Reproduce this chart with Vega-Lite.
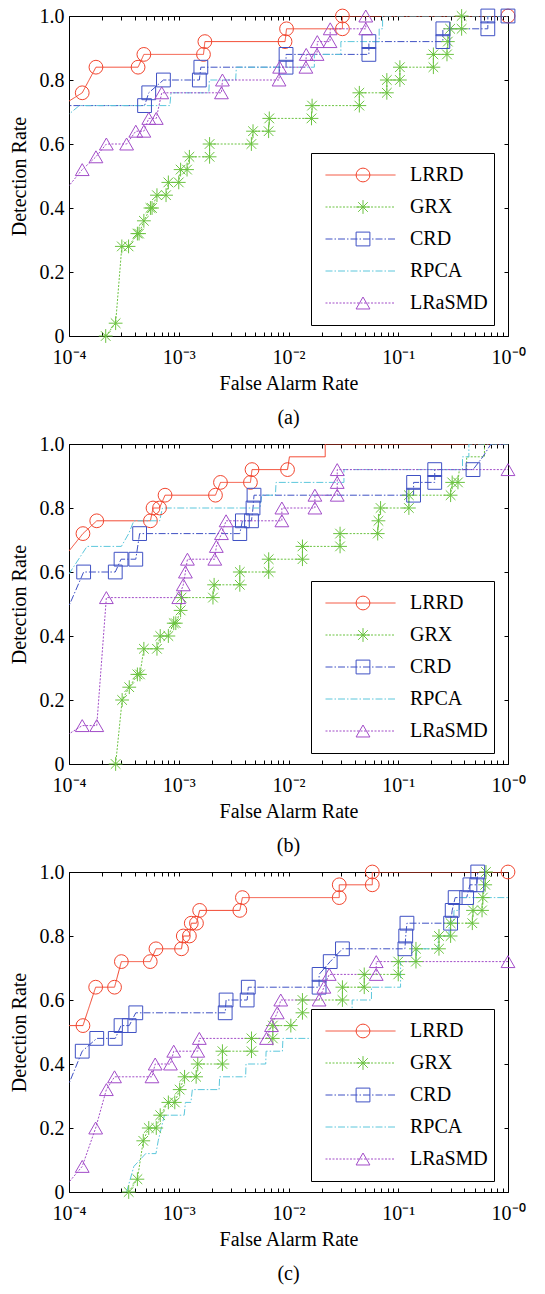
{
"$schema": "https://vega.github.io/schema/vega-lite/v6.json",
"background": "white",
"padding": {"left": 8, "top": 5, "right": 5, "bottom": 0},
"config": {
  "font": "Liberation Serif",
  "view": {"stroke": "black", "strokeWidth": 1},
  "axis": {"grid": false, "domain": false, "tickColor": "black", "tickWidth": 1, "tickSize": -4, "labelFont": "Liberation Serif", "labelFontSize": 20, "labelColor": "black", "titleFont": "Liberation Serif", "titleFontSize": 20, "titleFontWeight": "normal", "titleColor": "black", "labelFlush": false, "labelOverlap": false},
  "legend": {"orient": "none", "legendY": 137, "clipHeight": 32, "rowPadding": 0, "padding": 6, "labelFont": "Liberation Serif", "labelFontSize": 20, "labelColor": "black", "symbolStrokeWidth": 1},
  "title": {"font": "Liberation Serif", "fontSize": 20, "fontWeight": "normal", "color": "black", "orient": "bottom", "anchor": "middle", "offset": 15},
  "concat": {"spacing": 4}
},
"datasets": {"roc": [
{"p":"a","m":"LRRD","x":8.6e-5,"y":0.72},{"p":"a","m":"LRRD","x":1.32e-4,"y":0.76},{"p":"a","m":"LRRD","x":1.76e-4,"y":0.84},{"p":"a","m":"LRRD","x":4.26e-4,"y":0.84},{"p":"a","m":"LRRD","x":4.81e-4,"y":0.88},{"p":"a","m":"LRRD","x":1.68e-3,"y":0.88},{"p":"a","m":"LRRD","x":1.73e-3,"y":0.92},{"p":"a","m":"LRRD","x":9.3e-3,"y":0.92},{"p":"a","m":"LRRD","x":9.6e-3,"y":0.96},{"p":"a","m":"LRRD","x":0.031,"y":0.96},{"p":"a","m":"LRRD","x":0.031,"y":1},{"p":"a","m":"LRRD","x":1,"y":1},
{"p":"a","m":"GRX","x":2.16e-4,"y":0},{"p":"a","m":"GRX","x":2.66e-4,"y":0.04},{"p":"a","m":"GRX","x":3.03e-4,"y":0.28},{"p":"a","m":"GRX","x":3.49e-4,"y":0.28},{"p":"a","m":"GRX","x":4.2e-4,"y":0.32},{"p":"a","m":"GRX","x":4.35e-4,"y":0.32},{"p":"a","m":"GRX","x":4.81e-4,"y":0.36},{"p":"a","m":"GRX","x":5.52e-4,"y":0.4},{"p":"a","m":"GRX","x":5.71e-4,"y":0.4},{"p":"a","m":"GRX","x":6.33e-4,"y":0.44},{"p":"a","m":"GRX","x":7.66e-4,"y":0.44},{"p":"a","m":"GRX","x":8.04e-4,"y":0.48},{"p":"a","m":"GRX","x":1.0e-3,"y":0.48},{"p":"a","m":"GRX","x":1.04e-3,"y":0.52},{"p":"a","m":"GRX","x":1.19e-3,"y":0.52},{"p":"a","m":"GRX","x":1.25e-3,"y":0.56},{"p":"a","m":"GRX","x":1.91e-3,"y":0.56},{"p":"a","m":"GRX","x":1.91e-3,"y":0.6},{"p":"a","m":"GRX","x":4.59e-3,"y":0.6},{"p":"a","m":"GRX","x":4.75e-3,"y":0.64},{"p":"a","m":"GRX","x":6.59e-3,"y":0.64},{"p":"a","m":"GRX","x":6.68e-3,"y":0.68},{"p":"a","m":"GRX","x":0.0162,"y":0.68},{"p":"a","m":"GRX","x":0.0164,"y":0.72},{"p":"a","m":"GRX","x":0.0442,"y":0.72},{"p":"a","m":"GRX","x":0.0442,"y":0.76},{"p":"a","m":"GRX","x":0.0787,"y":0.76},{"p":"a","m":"GRX","x":0.0787,"y":0.8},{"p":"a","m":"GRX","x":0.1035,"y":0.8},{"p":"a","m":"GRX","x":0.1035,"y":0.84},{"p":"a","m":"GRX","x":0.209,"y":0.84},{"p":"a","m":"GRX","x":0.209,"y":0.88},{"p":"a","m":"GRX","x":0.278,"y":0.88},{"p":"a","m":"GRX","x":0.283,"y":0.92},{"p":"a","m":"GRX","x":0.297,"y":0.96},{"p":"a","m":"GRX","x":0.378,"y":0.96},{"p":"a","m":"GRX","x":0.378,"y":1},
{"p":"a","m":"CRD","x":5e-5,"y":0.72},{"p":"a","m":"CRD","x":4.88e-4,"y":0.72},{"p":"a","m":"CRD","x":5.33e-4,"y":0.76},{"p":"a","m":"CRD","x":7.25e-4,"y":0.8},{"p":"a","m":"CRD","x":1.54e-3,"y":0.8},{"p":"a","m":"CRD","x":1.59e-3,"y":0.84},{"p":"a","m":"CRD","x":9.5e-3,"y":0.84},{"p":"a","m":"CRD","x":9.5e-3,"y":0.88},{"p":"a","m":"CRD","x":0.054,"y":0.88},{"p":"a","m":"CRD","x":0.054,"y":0.92},{"p":"a","m":"CRD","x":0.255,"y":0.92},{"p":"a","m":"CRD","x":0.255,"y":0.96},{"p":"a","m":"CRD","x":0.655,"y":0.96},{"p":"a","m":"CRD","x":0.655,"y":1},{"p":"a","m":"CRD","x":1,"y":1},
{"p":"a","m":"RPCA","x":9e-5,"y":0.68},{"p":"a","m":"RPCA","x":1.24e-4,"y":0.72},{"p":"a","m":"RPCA","x":8.3e-4,"y":0.72},{"p":"a","m":"RPCA","x":8.5e-4,"y":0.76},{"p":"a","m":"RPCA","x":1.88e-3,"y":0.76},{"p":"a","m":"RPCA","x":1.9e-3,"y":0.8},{"p":"a","m":"RPCA","x":3.3e-3,"y":0.8},{"p":"a","m":"RPCA","x":3.35e-3,"y":0.84},{"p":"a","m":"RPCA","x":0.0172,"y":0.84},{"p":"a","m":"RPCA","x":0.0172,"y":0.88},{"p":"a","m":"RPCA","x":0.03,"y":0.88},{"p":"a","m":"RPCA","x":0.03,"y":0.92},{"p":"a","m":"RPCA","x":0.067,"y":0.92},{"p":"a","m":"RPCA","x":0.067,"y":0.96},{"p":"a","m":"RPCA","x":0.072,"y":0.96},{"p":"a","m":"RPCA","x":0.072,"y":1},{"p":"a","m":"RPCA","x":1,"y":1},
{"p":"a","m":"LRaSMD","x":8.5e-5,"y":0.44},{"p":"a","m":"LRaSMD","x":1.32e-4,"y":0.52},{"p":"a","m":"LRaSMD","x":1.76e-4,"y":0.56},{"p":"a","m":"LRaSMD","x":2.19e-4,"y":0.6},{"p":"a","m":"LRaSMD","x":3.35e-4,"y":0.6},{"p":"a","m":"LRaSMD","x":4.06e-4,"y":0.64},{"p":"a","m":"LRaSMD","x":4.81e-4,"y":0.64},{"p":"a","m":"LRaSMD","x":5.33e-4,"y":0.68},{"p":"a","m":"LRaSMD","x":6.24e-4,"y":0.68},{"p":"a","m":"LRaSMD","x":7.0e-4,"y":0.76},{"p":"a","m":"LRaSMD","x":2.45e-3,"y":0.76},{"p":"a","m":"LRaSMD","x":2.5e-3,"y":0.8},{"p":"a","m":"LRaSMD","x":8.2e-3,"y":0.8},{"p":"a","m":"LRaSMD","x":8.3e-3,"y":0.84},{"p":"a","m":"LRaSMD","x":0.0144,"y":0.84},{"p":"a","m":"LRaSMD","x":0.0145,"y":0.88},{"p":"a","m":"LRaSMD","x":0.0182,"y":0.88},{"p":"a","m":"LRaSMD","x":0.0183,"y":0.92},{"p":"a","m":"LRaSMD","x":0.0239,"y":0.92},{"p":"a","m":"LRaSMD","x":0.024,"y":0.96},{"p":"a","m":"LRaSMD","x":0.0506,"y":0.96},{"p":"a","m":"LRaSMD","x":0.0506,"y":1},
{"p":"b","m":"LRRD","x":8.7e-5,"y":0.64},{"p":"b","m":"LRRD","x":1.34e-4,"y":0.72},{"p":"b","m":"LRRD","x":1.79e-4,"y":0.76},{"p":"b","m":"LRRD","x":5.52e-4,"y":0.76},{"p":"b","m":"LRRD","x":5.83e-4,"y":0.8},{"p":"b","m":"LRRD","x":6.68e-4,"y":0.8},{"p":"b","m":"LRRD","x":7.5e-4,"y":0.84},{"p":"b","m":"LRRD","x":2.16e-3,"y":0.84},{"p":"b","m":"LRRD","x":2.4e-3,"y":0.88},{"p":"b","m":"LRRD","x":4.5e-3,"y":0.88},{"p":"b","m":"LRRD","x":4.65e-3,"y":0.92},{"p":"b","m":"LRRD","x":9.8e-3,"y":0.92},{"p":"b","m":"LRRD","x":0.0102,"y":0.96},{"p":"b","m":"LRRD","x":0.0216,"y":0.96},{"p":"b","m":"LRRD","x":0.0216,"y":1},{"p":"b","m":"LRRD","x":1,"y":1},
{"p":"b","m":"GRX","x":2.66e-4,"y":0},{"p":"b","m":"GRX","x":3.05e-4,"y":0.2},{"p":"b","m":"GRX","x":3.54e-4,"y":0.24},{"p":"b","m":"GRX","x":4.2e-4,"y":0.28},{"p":"b","m":"GRX","x":4.43e-4,"y":0.28},{"p":"b","m":"GRX","x":4.81e-4,"y":0.36},{"p":"b","m":"GRX","x":6.33e-4,"y":0.36},{"p":"b","m":"GRX","x":6.78e-4,"y":0.4},{"p":"b","m":"GRX","x":8.04e-4,"y":0.4},{"p":"b","m":"GRX","x":9.0e-4,"y":0.44},{"p":"b","m":"GRX","x":9.4e-4,"y":0.44},{"p":"b","m":"GRX","x":1.04e-3,"y":0.48},{"p":"b","m":"GRX","x":1.06e-3,"y":0.52},{"p":"b","m":"GRX","x":2.05e-3,"y":0.52},{"p":"b","m":"GRX","x":2.1e-3,"y":0.56},{"p":"b","m":"GRX","x":3.6e-3,"y":0.56},{"p":"b","m":"GRX","x":3.6e-3,"y":0.6},{"p":"b","m":"GRX","x":6.6e-3,"y":0.6},{"p":"b","m":"GRX","x":6.6e-3,"y":0.64},{"p":"b","m":"GRX","x":0.0134,"y":0.64},{"p":"b","m":"GRX","x":0.0134,"y":0.68},{"p":"b","m":"GRX","x":0.0295,"y":0.68},{"p":"b","m":"GRX","x":0.0295,"y":0.72},{"p":"b","m":"GRX","x":0.065,"y":0.72},{"p":"b","m":"GRX","x":0.066,"y":0.76},{"p":"b","m":"GRX","x":0.069,"y":0.8},{"p":"b","m":"GRX","x":0.125,"y":0.8},{"p":"b","m":"GRX","x":0.125,"y":0.84},{"p":"b","m":"GRX","x":0.3,"y":0.84},{"p":"b","m":"GRX","x":0.31,"y":0.88},{"p":"b","m":"GRX","x":0.35,"y":0.88},{"p":"b","m":"GRX","x":0.36,"y":0.92},{"p":"b","m":"GRX","x":0.42,"y":0.92},{"p":"b","m":"GRX","x":0.42,"y":0.96},{"p":"b","m":"GRX","x":0.61,"y":0.96},{"p":"b","m":"GRX","x":0.61,"y":1},
{"p":"b","m":"CRD","x":7.6e-5,"y":0.4},{"p":"b","m":"CRD","x":1.36e-4,"y":0.6},{"p":"b","m":"CRD","x":2.64e-4,"y":0.6},{"p":"b","m":"CRD","x":2.98e-4,"y":0.64},{"p":"b","m":"CRD","x":4.06e-4,"y":0.64},{"p":"b","m":"CRD","x":4.4e-4,"y":0.72},{"p":"b","m":"CRD","x":3.6e-3,"y":0.72},{"p":"b","m":"CRD","x":3.8e-3,"y":0.76},{"p":"b","m":"CRD","x":4.6e-3,"y":0.76},{"p":"b","m":"CRD","x":4.75e-3,"y":0.8},{"p":"b","m":"CRD","x":4.85e-3,"y":0.84},{"p":"b","m":"CRD","x":0.138,"y":0.84},{"p":"b","m":"CRD","x":0.138,"y":0.88},{"p":"b","m":"CRD","x":0.215,"y":0.88},{"p":"b","m":"CRD","x":0.215,"y":0.92},{"p":"b","m":"CRD","x":0.48,"y":0.92},{"p":"b","m":"CRD","x":0.59,"y":0.96},{"p":"b","m":"CRD","x":0.7,"y":1},{"p":"b","m":"CRD","x":1,"y":1},
{"p":"b","m":"RPCA","x":8.6e-5,"y":0.56},{"p":"b","m":"RPCA","x":1.46e-4,"y":0.68},{"p":"b","m":"RPCA","x":3.0e-4,"y":0.68},{"p":"b","m":"RPCA","x":3.5e-4,"y":0.72},{"p":"b","m":"RPCA","x":3.9e-4,"y":0.76},{"p":"b","m":"RPCA","x":6.7e-4,"y":0.76},{"p":"b","m":"RPCA","x":7.1e-4,"y":0.8},{"p":"b","m":"RPCA","x":5.5e-3,"y":0.8},{"p":"b","m":"RPCA","x":5.7e-3,"y":0.84},{"p":"b","m":"RPCA","x":7.6e-3,"y":0.84},{"p":"b","m":"RPCA","x":7.7e-3,"y":0.88},{"p":"b","m":"RPCA","x":0.032,"y":0.88},{"p":"b","m":"RPCA","x":0.032,"y":0.92},{"p":"b","m":"RPCA","x":0.385,"y":0.92},{"p":"b","m":"RPCA","x":0.385,"y":0.96},{"p":"b","m":"RPCA","x":0.44,"y":0.96},{"p":"b","m":"RPCA","x":0.44,"y":1},{"p":"b","m":"RPCA","x":1,"y":1},
{"p":"b","m":"LRaSMD","x":8.6e-5,"y":0.08},{"p":"b","m":"LRaSMD","x":1.32e-4,"y":0.12},{"p":"b","m":"LRaSMD","x":1.79e-4,"y":0.12},{"p":"b","m":"LRaSMD","x":2.19e-4,"y":0.52},{"p":"b","m":"LRaSMD","x":1.0e-3,"y":0.52},{"p":"b","m":"LRaSMD","x":1.1e-3,"y":0.56},{"p":"b","m":"LRaSMD","x":1.15e-3,"y":0.6},{"p":"b","m":"LRaSMD","x":1.2e-3,"y":0.64},{"p":"b","m":"LRaSMD","x":2.13e-3,"y":0.64},{"p":"b","m":"LRaSMD","x":2.2e-3,"y":0.68},{"p":"b","m":"LRaSMD","x":2.45e-3,"y":0.72},{"p":"b","m":"LRaSMD","x":2.7e-3,"y":0.76},{"p":"b","m":"LRaSMD","x":8.7e-3,"y":0.76},{"p":"b","m":"LRaSMD","x":8.7e-3,"y":0.8},{"p":"b","m":"LRaSMD","x":0.0174,"y":0.8},{"p":"b","m":"LRaSMD","x":0.0174,"y":0.84},{"p":"b","m":"LRaSMD","x":0.0278,"y":0.84},{"p":"b","m":"LRaSMD","x":0.0278,"y":0.88},{"p":"b","m":"LRaSMD","x":0.0278,"y":0.92},{"p":"b","m":"LRaSMD","x":1,"y":0.92},
{"p":"c","m":"LRRD","x":5e-5,"y":0.52},{"p":"c","m":"LRRD","x":1.34e-4,"y":0.52},{"p":"c","m":"LRRD","x":1.75e-4,"y":0.64},{"p":"c","m":"LRRD","x":2.6e-4,"y":0.64},{"p":"c","m":"LRRD","x":3.0e-4,"y":0.72},{"p":"c","m":"LRRD","x":5.5e-4,"y":0.72},{"p":"c","m":"LRRD","x":6.2e-4,"y":0.76},{"p":"c","m":"LRRD","x":1.06e-3,"y":0.76},{"p":"c","m":"LRRD","x":1.1e-3,"y":0.8},{"p":"c","m":"LRRD","x":1.25e-3,"y":0.8},{"p":"c","m":"LRRD","x":1.3e-3,"y":0.84},{"p":"c","m":"LRRD","x":1.45e-3,"y":0.84},{"p":"c","m":"LRRD","x":1.55e-3,"y":0.88},{"p":"c","m":"LRRD","x":3.6e-3,"y":0.88},{"p":"c","m":"LRRD","x":3.8e-3,"y":0.92},{"p":"c","m":"LRRD","x":0.029,"y":0.92},{"p":"c","m":"LRRD","x":0.029,"y":0.96},{"p":"c","m":"LRRD","x":0.058,"y":0.96},{"p":"c","m":"LRRD","x":0.058,"y":1},{"p":"c","m":"LRRD","x":1,"y":1},
{"p":"c","m":"GRX","x":3.5e-4,"y":0},{"p":"c","m":"GRX","x":4.2e-4,"y":0.04},{"p":"c","m":"GRX","x":4.75e-4,"y":0.16},{"p":"c","m":"GRX","x":5.33e-4,"y":0.2},{"p":"c","m":"GRX","x":6.24e-4,"y":0.2},{"p":"c","m":"GRX","x":6.78e-4,"y":0.24},{"p":"c","m":"GRX","x":8.04e-4,"y":0.28},{"p":"c","m":"GRX","x":9.2e-4,"y":0.28},{"p":"c","m":"GRX","x":1.02e-3,"y":0.32},{"p":"c","m":"GRX","x":1.13e-3,"y":0.36},{"p":"c","m":"GRX","x":1.44e-3,"y":0.36},{"p":"c","m":"GRX","x":1.49e-3,"y":0.4},{"p":"c","m":"GRX","x":2.5e-3,"y":0.4},{"p":"c","m":"GRX","x":2.5e-3,"y":0.44},{"p":"c","m":"GRX","x":4.6e-3,"y":0.44},{"p":"c","m":"GRX","x":4.6e-3,"y":0.48},{"p":"c","m":"GRX","x":7.2e-3,"y":0.48},{"p":"c","m":"GRX","x":7.2e-3,"y":0.52},{"p":"c","m":"GRX","x":0.0105,"y":0.52},{"p":"c","m":"GRX","x":0.0134,"y":0.56},{"p":"c","m":"GRX","x":0.0134,"y":0.6},{"p":"c","m":"GRX","x":0.031,"y":0.6},{"p":"c","m":"GRX","x":0.031,"y":0.64},{"p":"c","m":"GRX","x":0.049,"y":0.64},{"p":"c","m":"GRX","x":0.049,"y":0.68},{"p":"c","m":"GRX","x":0.1,"y":0.68},{"p":"c","m":"GRX","x":0.1,"y":0.72},{"p":"c","m":"GRX","x":0.145,"y":0.72},{"p":"c","m":"GRX","x":0.145,"y":0.76},{"p":"c","m":"GRX","x":0.235,"y":0.76},{"p":"c","m":"GRX","x":0.235,"y":0.8},{"p":"c","m":"GRX","x":0.3,"y":0.8},{"p":"c","m":"GRX","x":0.3,"y":0.84},{"p":"c","m":"GRX","x":0.473,"y":0.84},{"p":"c","m":"GRX","x":0.48,"y":0.88},{"p":"c","m":"GRX","x":0.58,"y":0.88},{"p":"c","m":"GRX","x":0.59,"y":0.92},{"p":"c","m":"GRX","x":0.62,"y":0.96},{"p":"c","m":"GRX","x":0.63,"y":1},
{"p":"c","m":"CRD","x":8.5e-5,"y":0.28},{"p":"c","m":"CRD","x":1.32e-4,"y":0.44},{"p":"c","m":"CRD","x":1.79e-4,"y":0.48},{"p":"c","m":"CRD","x":2.64e-4,"y":0.48},{"p":"c","m":"CRD","x":2.98e-4,"y":0.52},{"p":"c","m":"CRD","x":3.54e-4,"y":0.52},{"p":"c","m":"CRD","x":4.06e-4,"y":0.56},{"p":"c","m":"CRD","x":2.65e-3,"y":0.56},{"p":"c","m":"CRD","x":2.7e-3,"y":0.6},{"p":"c","m":"CRD","x":4.2e-3,"y":0.6},{"p":"c","m":"CRD","x":4.3e-3,"y":0.64},{"p":"c","m":"CRD","x":0.019,"y":0.64},{"p":"c","m":"CRD","x":0.019,"y":0.68},{"p":"c","m":"CRD","x":0.024,"y":0.72},{"p":"c","m":"CRD","x":0.031,"y":0.76},{"p":"c","m":"CRD","x":0.115,"y":0.76},{"p":"c","m":"CRD","x":0.117,"y":0.8},{"p":"c","m":"CRD","x":0.12,"y":0.84},{"p":"c","m":"CRD","x":0.3,"y":0.84},{"p":"c","m":"CRD","x":0.31,"y":0.88},{"p":"c","m":"CRD","x":0.33,"y":0.92},{"p":"c","m":"CRD","x":0.42,"y":0.92},{"p":"c","m":"CRD","x":0.45,"y":0.96},{"p":"c","m":"CRD","x":0.52,"y":0.96},{"p":"c","m":"CRD","x":0.53,"y":1},
{"p":"c","m":"RPCA","x":3.35e-4,"y":0},{"p":"c","m":"RPCA","x":3.9e-4,"y":0.08},{"p":"c","m":"RPCA","x":5.0e-4,"y":0.12},{"p":"c","m":"RPCA","x":6.2e-4,"y":0.12},{"p":"c","m":"RPCA","x":6.5e-4,"y":0.16},{"p":"c","m":"RPCA","x":7.4e-4,"y":0.24},{"p":"c","m":"RPCA","x":1.12e-3,"y":0.24},{"p":"c","m":"RPCA","x":1.15e-3,"y":0.28},{"p":"c","m":"RPCA","x":1.29e-3,"y":0.28},{"p":"c","m":"RPCA","x":1.33e-3,"y":0.32},{"p":"c","m":"RPCA","x":2.33e-3,"y":0.32},{"p":"c","m":"RPCA","x":2.36e-3,"y":0.36},{"p":"c","m":"RPCA","x":4.07e-3,"y":0.36},{"p":"c","m":"RPCA","x":4.1e-3,"y":0.4},{"p":"c","m":"RPCA","x":6.2e-3,"y":0.4},{"p":"c","m":"RPCA","x":6.25e-3,"y":0.44},{"p":"c","m":"RPCA","x":8.8e-3,"y":0.44},{"p":"c","m":"RPCA","x":8.9e-3,"y":0.48},{"p":"c","m":"RPCA","x":0.038,"y":0.48},{"p":"c","m":"RPCA","x":0.038,"y":0.6},{"p":"c","m":"RPCA","x":0.057,"y":0.6},{"p":"c","m":"RPCA","x":0.057,"y":0.64},{"p":"c","m":"RPCA","x":0.105,"y":0.64},{"p":"c","m":"RPCA","x":0.105,"y":0.72},{"p":"c","m":"RPCA","x":0.145,"y":0.72},{"p":"c","m":"RPCA","x":0.148,"y":0.76},{"p":"c","m":"RPCA","x":0.23,"y":0.76},{"p":"c","m":"RPCA","x":0.232,"y":0.8},{"p":"c","m":"RPCA","x":0.29,"y":0.8},{"p":"c","m":"RPCA","x":0.292,"y":0.84},{"p":"c","m":"RPCA","x":0.32,"y":0.84},{"p":"c","m":"RPCA","x":0.322,"y":0.88},{"p":"c","m":"RPCA","x":0.36,"y":0.88},{"p":"c","m":"RPCA","x":0.362,"y":0.92},{"p":"c","m":"RPCA","x":1,"y":0.92},
{"p":"c","m":"LRaSMD","x":8.4e-5,"y":0},{"p":"c","m":"LRaSMD","x":1.32e-4,"y":0.08},{"p":"c","m":"LRaSMD","x":1.75e-4,"y":0.2},{"p":"c","m":"LRaSMD","x":2.19e-4,"y":0.32},{"p":"c","m":"LRaSMD","x":2.6e-4,"y":0.36},{"p":"c","m":"LRaSMD","x":5.7e-4,"y":0.36},{"p":"c","m":"LRaSMD","x":6.1e-4,"y":0.4},{"p":"c","m":"LRaSMD","x":8.4e-4,"y":0.4},{"p":"c","m":"LRaSMD","x":9.0e-4,"y":0.44},{"p":"c","m":"LRaSMD","x":1.49e-3,"y":0.44},{"p":"c","m":"LRaSMD","x":1.54e-3,"y":0.48},{"p":"c","m":"LRaSMD","x":6.3e-3,"y":0.48},{"p":"c","m":"LRaSMD","x":7.0e-3,"y":0.52},{"p":"c","m":"LRaSMD","x":7.9e-3,"y":0.56},{"p":"c","m":"LRaSMD","x":8.5e-3,"y":0.6},{"p":"c","m":"LRaSMD","x":0.019,"y":0.6},{"p":"c","m":"LRaSMD","x":0.021,"y":0.64},{"p":"c","m":"LRaSMD","x":0.0235,"y":0.68},{"p":"c","m":"LRaSMD","x":0.063,"y":0.68},{"p":"c","m":"LRaSMD","x":0.063,"y":0.72},{"p":"c","m":"LRaSMD","x":1,"y":0.72}
]},
"vconcat": [
{
 "width": 439, "height": 320,
 "title": {"text": "(a)"},
 "data": {"name": "roc"},
 "transform": [{"filter": "datum.p == 'a'"}],
 "layer": [
  {"mark": {"type": "line", "clip": true, "strokeWidth": 1},
   "encoding": {
    "x": {"field": "x", "type": "quantitative", "scale": {"type": "log", "domain": [0.0001, 1]}, "axis": {"orient": "bottom", "values": [0.0001,0.0002,0.0003,0.0004,0.0005,0.0006,0.0007,0.0008,0.0009,0.001,0.002,0.003,0.004,0.005,0.006,0.007,0.008,0.009,0.01,0.02,0.03,0.04,0.05,0.06,0.07,0.08,0.09,0.1,0.2,0.3,0.4,0.5,0.6,0.7,0.8,0.9,1], "labelExpr": "datum.value == 0.0001 ? '10⁻⁴' : datum.value == 0.001 ? '10⁻³' : datum.value == 0.01 ? '10⁻²' : datum.value == 0.1 ? '10⁻¹' : datum.value == 1 ? '10⁻⁰' : ''", "labelPadding": 15, "title": "False Alarm Rate", "titlePadding": 6}},
    "y": {"field": "y", "type": "quantitative", "scale": {"domain": [0, 1]}, "axis": {"orient": "left", "values": [0,0.2,0.4,0.6,0.8,1], "labelExpr": "datum.value == 0 ? '0' : format(datum.value, '.1f')", "labelPadding": 9, "title": "Detection Rate", "titlePadding": 10}},
    "color": {"field": "m", "type": "nominal", "scale": {"domain": ["LRRD","GRX","CRD","RPCA","LRaSMD"], "range": ["#F2452E","#6BC340","#3F51C4","#5CC7DC","#A24CC8"]}, "legend": {"title": null, "legendX": 242, "symbolType": "stroke", "symbolSize": 4900, "symbolOffset": 8, "labelOffset": 14, "strokeColor": "black", "fillColor": "white", "labelExpr": "datum.label + ' '"}},
    "strokeDash": {"field": "m", "type": "nominal", "scale": {"domain": ["LRRD","GRX","CRD","RPCA","LRaSMD"], "range": [[1,0],[2,1.5],[7,2,1.5,2],[7,2,1.5,2],[2,1.5]]}, "legend": {"title": null, "legendX": 242, "symbolType": "stroke", "symbolSize": 4900, "symbolOffset": 8, "labelOffset": 14, "strokeColor": "black", "fillColor": "white", "labelExpr": "datum.label + ' '"}},
    "order": {"value": null}
   }},
  {"transform": [{"filter": "datum.m != 'RPCA' && datum.x >= 0.0001"}],
   "mark": {"type": "point", "clip": false, "filled": false, "strokeWidth": 1, "size": 190, "opacity": 1},
   "encoding": {
    "x": {"field": "x", "type": "quantitative", "scale": {"type": "log", "domain": [0.0001, 1]}, "axis": {"orient": "top", "values": [0.0001,0.0002,0.0003,0.0004,0.0005,0.0006,0.0007,0.0008,0.0009,0.001,0.002,0.003,0.004,0.005,0.006,0.007,0.008,0.009,0.01,0.02,0.03,0.04,0.05,0.06,0.07,0.08,0.09,0.1,0.2,0.3,0.4,0.5,0.6,0.7,0.8,0.9,1], "labels": false, "title": null}},
    "y": {"field": "y", "type": "quantitative", "scale": {"domain": [0, 1]}, "axis": {"orient": "right", "values": [0,0.2,0.4,0.6,0.8,1], "labels": false, "title": null}},
    "color": {"field": "m", "type": "nominal", "scale": {"domain": ["LRRD","GRX","CRD","RPCA","LRaSMD"], "range": ["#F2452E","#6BC340","#3F51C4","#5CC7DC","#A24CC8"]}, "legend": {"title": null, "legendX": 278, "symbolSize": 190, "labelExpr": "''"}},
    "shape": {"field": "m", "type": "nominal", "scale": {"domain": ["LRRD","GRX","CRD","RPCA","LRaSMD"], "range": ["circle","M-1,0L1,0M0,-1L0,1M-0.7,-0.7L0.7,0.7M-0.7,0.7L0.7,-0.7","square","M0,0","triangle-up"]}, "legend": {"title": null, "legendX": 278, "symbolSize": 190, "labelExpr": "''"}}
   }}
 ],
 "resolve": {"axis": {"x": "independent", "y": "independent"}, "legend": {"color": "independent", "strokeDash": "independent", "shape": "independent"}}
},
{
 "width": 439, "height": 320,
 "title": {"text": "(b)"},
 "data": {"name": "roc"},
 "transform": [{"filter": "datum.p == 'b'"}],
 "layer": [
  {"mark": {"type": "line", "clip": true, "strokeWidth": 1},
   "encoding": {
    "x": {"field": "x", "type": "quantitative", "scale": {"type": "log", "domain": [0.0001, 1]}, "axis": {"orient": "bottom", "values": [0.0001,0.0002,0.0003,0.0004,0.0005,0.0006,0.0007,0.0008,0.0009,0.001,0.002,0.003,0.004,0.005,0.006,0.007,0.008,0.009,0.01,0.02,0.03,0.04,0.05,0.06,0.07,0.08,0.09,0.1,0.2,0.3,0.4,0.5,0.6,0.7,0.8,0.9,1], "labelExpr": "datum.value == 0.0001 ? '10⁻⁴' : datum.value == 0.001 ? '10⁻³' : datum.value == 0.01 ? '10⁻²' : datum.value == 0.1 ? '10⁻¹' : datum.value == 1 ? '10⁻⁰' : ''", "labelPadding": 15, "title": "False Alarm Rate", "titlePadding": 6}},
    "y": {"field": "y", "type": "quantitative", "scale": {"domain": [0, 1]}, "axis": {"orient": "left", "values": [0,0.2,0.4,0.6,0.8,1], "labelExpr": "datum.value == 0 ? '0' : format(datum.value, '.1f')", "labelPadding": 9, "title": "Detection Rate", "titlePadding": 10}},
    "color": {"field": "m", "type": "nominal", "scale": {"domain": ["LRRD","GRX","CRD","RPCA","LRaSMD"], "range": ["#F2452E","#6BC340","#3F51C4","#5CC7DC","#A24CC8"]}, "legend": {"title": null, "legendX": 242, "symbolType": "stroke", "symbolSize": 4900, "symbolOffset": 8, "labelOffset": 14, "strokeColor": "black", "fillColor": "white", "labelExpr": "datum.label + ' '"}},
    "strokeDash": {"field": "m", "type": "nominal", "scale": {"domain": ["LRRD","GRX","CRD","RPCA","LRaSMD"], "range": [[1,0],[2,1.5],[7,2,1.5,2],[7,2,1.5,2],[2,1.5]]}, "legend": {"title": null, "legendX": 242, "symbolType": "stroke", "symbolSize": 4900, "symbolOffset": 8, "labelOffset": 14, "strokeColor": "black", "fillColor": "white", "labelExpr": "datum.label + ' '"}},
    "order": {"value": null}
   }},
  {"transform": [{"filter": "datum.m != 'RPCA' && datum.x >= 0.0001 && !((datum.m == 'LRRD' && datum.x > 0.0099) || (datum.m == 'GRX' && datum.y > 0.89) || (datum.m == 'CRD' && datum.y > 0.93))"}],
   "mark": {"type": "point", "clip": false, "filled": false, "strokeWidth": 1, "size": 190, "opacity": 1},
   "encoding": {
    "x": {"field": "x", "type": "quantitative", "scale": {"type": "log", "domain": [0.0001, 1]}, "axis": {"orient": "top", "values": [0.0001,0.0002,0.0003,0.0004,0.0005,0.0006,0.0007,0.0008,0.0009,0.001,0.002,0.003,0.004,0.005,0.006,0.007,0.008,0.009,0.01,0.02,0.03,0.04,0.05,0.06,0.07,0.08,0.09,0.1,0.2,0.3,0.4,0.5,0.6,0.7,0.8,0.9,1], "labels": false, "title": null}},
    "y": {"field": "y", "type": "quantitative", "scale": {"domain": [0, 1]}, "axis": {"orient": "right", "values": [0,0.2,0.4,0.6,0.8,1], "labels": false, "title": null}},
    "color": {"field": "m", "type": "nominal", "scale": {"domain": ["LRRD","GRX","CRD","RPCA","LRaSMD"], "range": ["#F2452E","#6BC340","#3F51C4","#5CC7DC","#A24CC8"]}, "legend": {"title": null, "legendX": 278, "symbolSize": 190, "labelExpr": "''"}},
    "shape": {"field": "m", "type": "nominal", "scale": {"domain": ["LRRD","GRX","CRD","RPCA","LRaSMD"], "range": ["circle","M-1,0L1,0M0,-1L0,1M-0.7,-0.7L0.7,0.7M-0.7,0.7L0.7,-0.7","square","M0,0","triangle-up"]}, "legend": {"title": null, "legendX": 278, "symbolSize": 190, "labelExpr": "''"}}
   }}
 ],
 "resolve": {"axis": {"x": "independent", "y": "independent"}, "legend": {"color": "independent", "strokeDash": "independent", "shape": "independent"}}
},
{
 "width": 439, "height": 320,
 "title": {"text": "(c)"},
 "data": {"name": "roc"},
 "transform": [{"filter": "datum.p == 'c'"}],
 "layer": [
  {"mark": {"type": "line", "clip": true, "strokeWidth": 1},
   "encoding": {
    "x": {"field": "x", "type": "quantitative", "scale": {"type": "log", "domain": [0.0001, 1]}, "axis": {"orient": "bottom", "values": [0.0001,0.0002,0.0003,0.0004,0.0005,0.0006,0.0007,0.0008,0.0009,0.001,0.002,0.003,0.004,0.005,0.006,0.007,0.008,0.009,0.01,0.02,0.03,0.04,0.05,0.06,0.07,0.08,0.09,0.1,0.2,0.3,0.4,0.5,0.6,0.7,0.8,0.9,1], "labelExpr": "datum.value == 0.0001 ? '10⁻⁴' : datum.value == 0.001 ? '10⁻³' : datum.value == 0.01 ? '10⁻²' : datum.value == 0.1 ? '10⁻¹' : datum.value == 1 ? '10⁻⁰' : ''", "labelPadding": 15, "title": "False Alarm Rate", "titlePadding": 6}},
    "y": {"field": "y", "type": "quantitative", "scale": {"domain": [0, 1]}, "axis": {"orient": "left", "values": [0,0.2,0.4,0.6,0.8,1], "labelExpr": "datum.value == 0 ? '0' : format(datum.value, '.1f')", "labelPadding": 9, "title": "Detection Rate", "titlePadding": 10}},
    "color": {"field": "m", "type": "nominal", "scale": {"domain": ["LRRD","GRX","CRD","RPCA","LRaSMD"], "range": ["#F2452E","#6BC340","#3F51C4","#5CC7DC","#A24CC8"]}, "legend": {"title": null, "legendX": 242, "symbolType": "stroke", "symbolSize": 4900, "symbolOffset": 8, "labelOffset": 14, "strokeColor": "black", "fillColor": "white", "labelExpr": "datum.label + ' '"}},
    "strokeDash": {"field": "m", "type": "nominal", "scale": {"domain": ["LRRD","GRX","CRD","RPCA","LRaSMD"], "range": [[1,0],[2,1.5],[7,2,1.5,2],[7,2,1.5,2],[2,1.5]]}, "legend": {"title": null, "legendX": 242, "symbolType": "stroke", "symbolSize": 4900, "symbolOffset": 8, "labelOffset": 14, "strokeColor": "black", "fillColor": "white", "labelExpr": "datum.label + ' '"}},
    "order": {"value": null}
   }},
  {"transform": [{"filter": "datum.m != 'RPCA' && datum.x >= 0.0001"}],
   "mark": {"type": "point", "clip": false, "filled": false, "strokeWidth": 1, "size": 190, "opacity": 1},
   "encoding": {
    "x": {"field": "x", "type": "quantitative", "scale": {"type": "log", "domain": [0.0001, 1]}, "axis": {"orient": "top", "values": [0.0001,0.0002,0.0003,0.0004,0.0005,0.0006,0.0007,0.0008,0.0009,0.001,0.002,0.003,0.004,0.005,0.006,0.007,0.008,0.009,0.01,0.02,0.03,0.04,0.05,0.06,0.07,0.08,0.09,0.1,0.2,0.3,0.4,0.5,0.6,0.7,0.8,0.9,1], "labels": false, "title": null}},
    "y": {"field": "y", "type": "quantitative", "scale": {"domain": [0, 1]}, "axis": {"orient": "right", "values": [0,0.2,0.4,0.6,0.8,1], "labels": false, "title": null}},
    "color": {"field": "m", "type": "nominal", "scale": {"domain": ["LRRD","GRX","CRD","RPCA","LRaSMD"], "range": ["#F2452E","#6BC340","#3F51C4","#5CC7DC","#A24CC8"]}, "legend": {"title": null, "legendX": 278, "symbolSize": 190, "labelExpr": "''"}},
    "shape": {"field": "m", "type": "nominal", "scale": {"domain": ["LRRD","GRX","CRD","RPCA","LRaSMD"], "range": ["circle","M-1,0L1,0M0,-1L0,1M-0.7,-0.7L0.7,0.7M-0.7,0.7L0.7,-0.7","square","M0,0","triangle-up"]}, "legend": {"title": null, "legendX": 278, "symbolSize": 190, "labelExpr": "''"}}
   }}
 ],
 "resolve": {"axis": {"x": "independent", "y": "independent"}, "legend": {"color": "independent", "strokeDash": "independent", "shape": "independent"}}
}
]
}
